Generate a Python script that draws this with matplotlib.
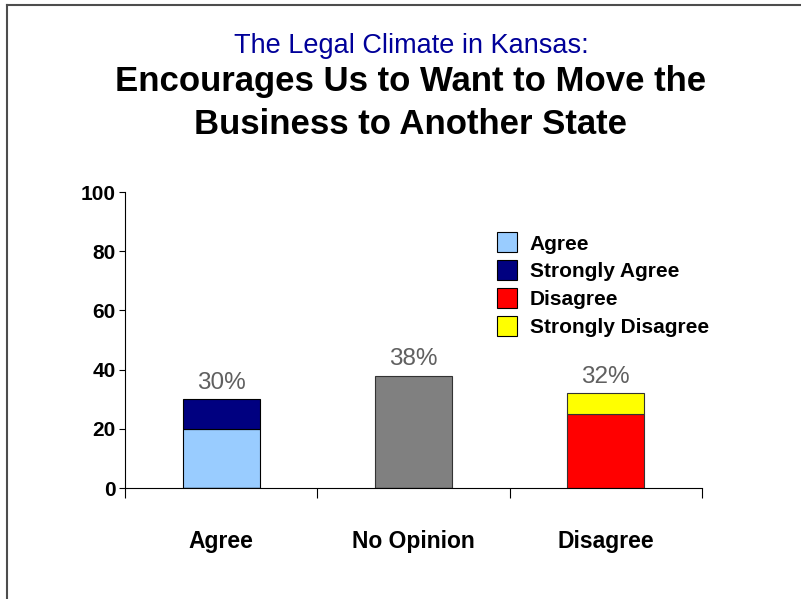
import matplotlib
matplotlib.use("Agg")
import matplotlib.pyplot as plt
from matplotlib.patches import Patch
from matplotlib.lines import Line2D

# survey results (percent)
categories = ["Agree", "No Opinion", "Disagree"]
agree = [20, 0, 0]
strongly_agree = [10, 0, 0]
no_opinion = [0, 38, 0]
disagree = [0, 0, 25]
strongly_disagree = [0, 0, 7]
totals = [30, 38, 32]
yticks = [0, 20, 40, 60, 80, 100]

legend_labels = ["Agree", "Strongly Agree", "Disagree", "Strongly Disagree"]
legend_colors = ["#99ccff", "#000080", "#ff0000", "#ffff00"]

plt.rcParams["font.family"] = ["Liberation Sans", "DejaVu Sans"]

fig = plt.figure(figsize=(8.01, 5.99), dpi=100)
ax = fig.add_axes([125 / 801, 1 - 488 / 599, 577 / 801, 296 / 599])

x = list(range(len(categories)))
w = 0.4
ax.bar(x, agree, w, color="#99ccff", edgecolor="black", linewidth=0.8)
ax.bar(x, strongly_agree, w, bottom=agree, color="#000080", edgecolor="black", linewidth=0.8)
ax.bar(x, no_opinion, w, color="#808080", edgecolor="#333333", linewidth=0.8)
ax.bar(x, disagree, w, color="#ff0000", edgecolor="#333333", linewidth=0.8)
ax.bar(x, strongly_disagree, w, bottom=disagree, color="#ffff00", edgecolor="#333333", linewidth=0.8)

for i, t in enumerate(totals):
    ax.text(i, t + 3.6, f"{t}%", ha="center", va="baseline", fontsize=17.5, color="#606060")

ax.set_xlim(-0.5, 2.5)
ax.set_ylim(0, 100)
ax.set_yticks(yticks)
ax.set_yticklabels([str(v) for v in yticks], fontweight="bold", fontsize=15)
ax.tick_params(axis="y", direction="out", length=4, width=0.8, pad=2.5)

ax.set_xticks(x)
ax.set_xticklabels(categories, fontweight="bold", fontsize=16.5)
ax.tick_params(axis="x", which="major", length=0, pad=30)
ax.set_xticks([-0.5, 0.5, 1.5, 2.5], minor=True)
ax.tick_params(axis="x", which="minor", direction="out", length=7, width=0.8)

for s in ["top", "right"]:
    ax.spines[s].set_visible(False)
ax.spines["left"].set_linewidth(0.8)
ax.spines["bottom"].set_linewidth(0.8)

handles = [Patch(facecolor=c, edgecolor="black", linewidth=0.8) for c in legend_colors]
fig.legend(handles, legend_labels, loc="upper left", bbox_to_anchor=(487 / 801, 1 - 222 / 599),
           frameon=False, prop={"weight": "bold", "size": 15},
           handlelength=0.96, handleheight=1.1, labelspacing=0.33, handletextpad=0.6, borderpad=0)

fig.text(0.513, 1 - 53 / 599, "The Legal Climate in Kansas:", ha="center", va="baseline",
         fontsize=19.5, color="#000099")
fig.text(0.513, 1 - 91 / 599, "Encourages Us to Want to Move the", ha="center", va="baseline",
         fontsize=25, fontweight="bold")
fig.text(0.513, 1 - 134 / 599, "Business to Another State", ha="center", va="baseline",
         fontsize=25, fontweight="bold")

# slide frame
fig.add_artist(Line2D([7 / 801, 1], [1 - 5 / 599, 1 - 5 / 599], color="#4d4d4d", linewidth=1.5))
fig.add_artist(Line2D([7 / 801, 7 / 801], [0, 1 - 5 / 599], color="#4d4d4d", linewidth=1.5))

fig.savefig("out.png", dpi=100)
